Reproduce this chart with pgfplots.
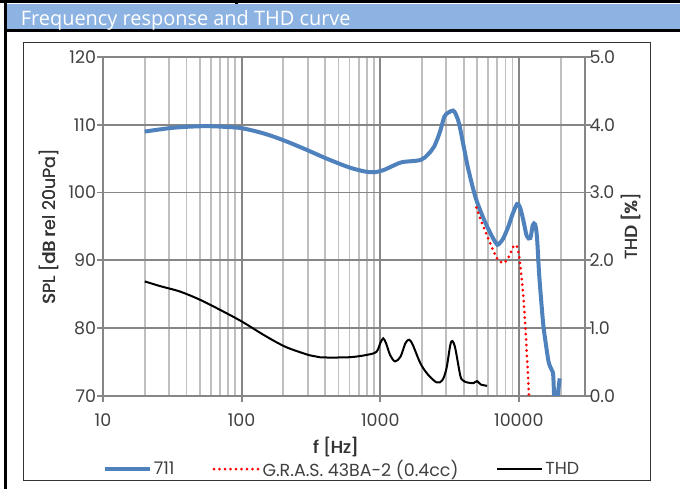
\documentclass[border=0pt]{standalone}
\usepackage{pgfplots}
\pgfplotsset{compat=1.18}
\usepackage{fontspec}
\setmainfont{Poppins}
\newfontfamily\titlefont{Open Sans}
% poor man's semibold: the text printed twice, a hair apart
\newcommand\semib[1]{\leavevmode\rlap{#1}\hspace{0.55bp}#1}

\definecolor{headblue}{RGB}{141,179,226}
\definecolor{blue711}{RGB}{79,129,189}
\definecolor{majgrid}{RGB}{134,134,134}
\definecolor{mingrid}{RGB}{191,191,191}
\definecolor{txt}{RGB}{64,64,64}

\pgfplotstableread{
f spl
20 109.0
30 109.5
40 109.7
56 109.8
75 109.7
100 109.5
140 108.8
190 107.9
280 106.5
412 105.0
600 103.7
780 103.1
900 103.0
1050 103.3
1250 104.0
1450 104.5
1950 104.8
2200 105.6
2450 106.8
2700 109.0
2900 111.2
3100 111.8
3350 112.1
3500 111.6
3700 110.2
4000 106.8
4300 103.6
4850 99.4
5400 96.8
5900 95.0
6500 93.3
7000 92.3
7300 92.6
7700 93.2
8400 95.0
9000 96.8
9700 98.3
10200 97.8
10800 95.8
11400 93.6
12100 93.3
12600 95.2
13100 95.3
13500 93.5
14000 88.0
14500 84.0
15000 80.5
15500 78.3
16400 75.0
17300 73.8
17700 73.0
18100 68.5
18600 68.5
19700 72.6
}\tblA

\pgfplotstableread{
f spl
4930 97.8
5420 95.5
6220 92.5
6960 90.3
7760 89.6
8440 90.5
9000 91.8
9330 92.3
9700 92.0
9980 91.0
10260 89.1
10720 85.2
11140 80.2
11500 75.0
11780 70.4
12000 67.0
}\tblGras

\pgfplotstableread{
f thd
20 1.69
24 1.64
27 1.61
36 1.54
50 1.42
70 1.27
100 1.10
150 0.88
210 0.72
310 0.60
370 0.57
575 0.57
720 0.59
900 0.63
960 0.68
1000 0.78
1050 0.85
1100 0.78
1180 0.60
1280 0.51
1400 0.58
1520 0.78
1620 0.83
1720 0.75
1950 0.48
2200 0.32
2550 0.20
2800 0.23
3000 0.40
3200 0.75
3320 0.81
3480 0.70
3780 0.30
3950 0.23
4230 0.20
4700 0.19
5000 0.22
5300 0.17
5900 0.15
}\tblThd

\pgfplotsset{
  myframe/.style={
    at={(103bp,93bp)}, anchor=south west,
    scale only axis, width=482bp, height=339bp,
    xmin=10, xmax=30000,
    axis line style={majgrid, line width=1.8bp},
    tick style={majgrid, line width=1.8bp},
    tick align=outside,
    major tick length=6bp, minor tick length=0pt,
    ticklabel style={font=\fontsize{17.5}{17.5}\selectfont, text=txt},
    /pgf/number format/assume math mode=true,
    label style={font=\fontsize{17.5}{17.5}\selectfont, text=txt!80!black},
  },
}

\begin{document}
\begin{tikzpicture}[x=1bp,y=1bp]
\useasboundingbox (0,0) rectangle (680,489);
\fill[headblue] (5,459.7) rectangle (680,484.7);
\fill[black] (0,485.7) rectangle (680,489);
\fill[black] (235,485) rectangle (237.5,489);
\fill[black] (4,457.3) rectangle (680,459.7);
\fill[black] (4,0) rectangle (7,489);
\node[anchor=base west, text=white, inner sep=0pt, font=\titlefont\fontsize{20}{20}\selectfont] at (20.7,463) {Frequency response and THD curve};
\draw[black!80, line width=1.5bp] (23.5,8.5) rectangle (650.5,446.5);

\begin{axis}[xmode=log, myframe,
  ymin=70, ymax=120, ytick={70,80,...,120},
  xtick={10,100,1000,10000}, xticklabels={10,100,1000,10000},
  minor xtick={20,30,40,50,60,70,80,90,200,300,400,500,600,700,800,900,2000,3000,4000,5000,6000,7000,8000,9000,20000,30000},
  xtick pos=bottom, ytick pos=left,
  xticklabel style={yshift=-8bp},
  yticklabel style={xshift=2.5bp},
  grid=both,
  major grid style={majgrid, line width=1.8bp},
  minor grid style={mingrid, line width=1.8bp},
  xlabel={\semib{f [Hz]}}, ylabel={\semib{SPL [dB rel 20uPa]}},
  xlabel style={at={(axis description cs:0.483,-0.15)}, anchor=center},
  ylabel style={at={(axis description cs:-0.112,0.5)}, anchor=center},
  clip=true,
  legend columns=3,
  legend style={at={(axis description cs:0.496,-0.216)}, anchor=center,
    draw=none, fill=none, font=\fontsize{17.5}{17.5}\selectfont, text=txt,
    /tikz/every even column/.append style={column sep=36bp},
    /tikz/every odd column/.append style={inner xsep=1bp}},
  legend image code/.code={\draw[#1] (0bp,0bp) -- (45bp,0bp);},
]
\addplot[blue711, line width=4bp, smooth] table[x=f, y=spl] {\tblA};
\addlegendentry{711}
\addplot[red, line width=3bp, dash pattern=on 0pt off 5.5bp, line cap=round, smooth] table[x=f, y=spl] {\tblGras};
\addlegendentry{G.R.A.S. 43BA-2 (0.4cc)}
\addlegendimage{black, line width=2bp}
\addlegendentry{THD}
\end{axis}

\begin{axis}[xmode=log, myframe,
  ymin=0, ymax=5, ytick={0,1,...,5},
  axis x line=none, axis y line*=right,
  yticklabel style={xshift=-5bp, /pgf/number format/.cd, fixed, fixed zerofill, precision=1},
  ylabel={\semib{THD [\%]}},
  ylabel style={at={(axis description cs:1.095,0.5)}, anchor=center},
]
\addplot[black, line width=2bp, smooth] table[x=f, y=thd] {\tblThd};
\end{axis}
\end{tikzpicture}
\end{document}
